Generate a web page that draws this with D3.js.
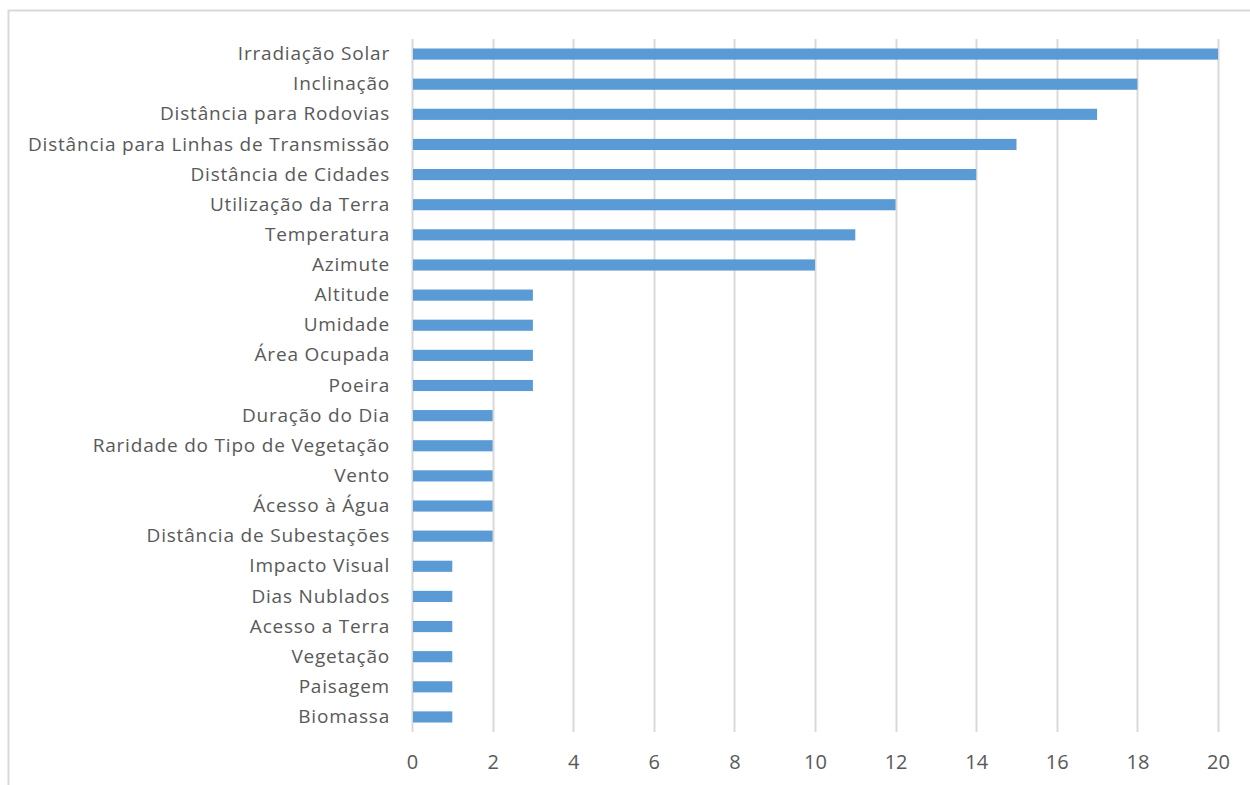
<!DOCTYPE html>
<html><head><meta charset="utf-8">
<script src="https://cdn.jsdelivr.net/npm/d3@7"></script>
<style>body{margin:0;background:#fff;}svg{display:block;}</style>
</head><body>
<svg id="c" width="1250" height="785"></svg>
<script>
const categories = ["Irradiação Solar","Inclinação","Distância para Rodovias","Distância para Linhas de Transmissão","Distância de Cidades","Utilização da Terra","Temperatura","Azimute","Altitude","Umidade","Área Ocupada","Poeira","Duração do Dia","Raridade do Tipo de Vegetação","Vento","Ácesso à Água","Distância de Subestações","Impacto Visual","Dias Nublados","Acesso a Terra","Vegetação","Paisagem","Biomassa"];
const values = [20,18,17,15,14,12,11,10,3,3,3,3,2,2,2,2,2,1,1,1,1,1,1];
const ticks = [0,2,4,6,8,10,12,14,16,18,20];

const svg = d3.select("#c");
svg.append("rect").attr("x",8.5).attr("y",10.5).attr("width",1260).attr("height",800)
  .attr("fill","none").attr("stroke","#d9d9d9").attr("stroke-width",2);

const x = d3.scaleLinear().domain([0,20]).range([412,1218]);
const y = d3.scaleBand().domain(categories).range([39,732]).paddingInner(0.63).paddingOuter(0.315);

const grid = svg.append("g");
grid.selectAll("line").data(ticks).join("line")
  .attr("x1",d=>Math.round(x(d))+0.5).attr("x2",d=>Math.round(x(d))+0.5)
  .attr("y1",39).attr("y2",732).attr("stroke","#d9d9d9").attr("stroke-width",2);

svg.append("g").selectAll("rect").data(values).join("rect")
  .attr("x",x(0)+1).attr("y",(d,i)=>y(categories[i]))
  .attr("width",d=>x(d)-x(0)-1).attr("height",y.bandwidth())
  .attr("fill","#5b9bd5");

const font = "Open Sans, sans-serif";
const xAxis = d3.axisBottom(x).tickValues(ticks).tickSize(0).tickPadding(0);
const gx = svg.append("g").attr("transform","translate(0,769)").call(xAxis);
gx.select(".domain").remove();
gx.selectAll("text").attr("font-family",font).attr("font-size","20px").attr("fill","#595959").attr("dy",0);

const yAxis = d3.axisLeft(y).tickSize(0).tickPadding(22);
const gy = svg.append("g").attr("transform","translate(412,0)").call(yAxis);
gy.select(".domain").remove();
gy.selectAll("text").attr("font-family",font).attr("font-size","19px").attr("letter-spacing","0.8px").attr("fill","#595959");
</script>
</body></html>
